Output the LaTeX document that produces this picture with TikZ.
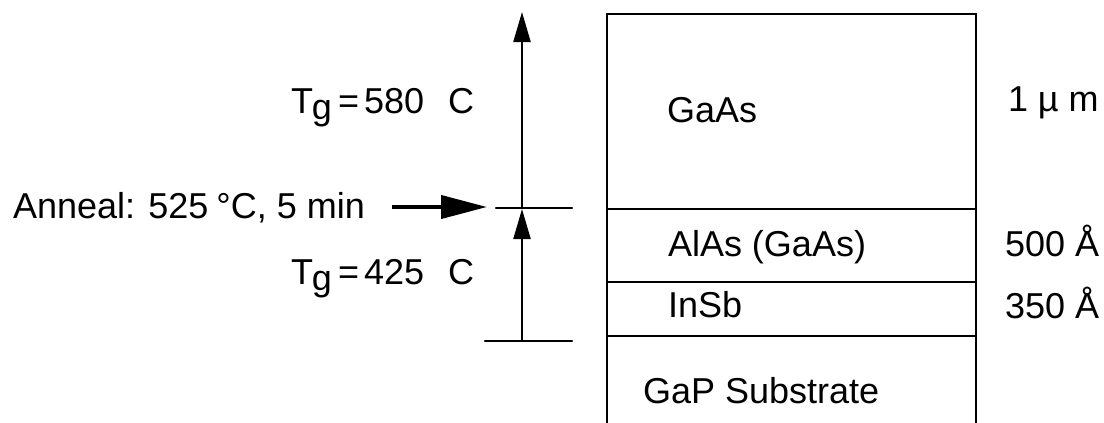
\documentclass[tikz,border=0pt]{standalone}
\usepackage{fontspec}
\setmainfont{Liberation Sans}
\usetikzlibrary{arrows.meta}
\tikzset{
  lbl/.style={anchor=base west, inner sep=0pt, outer sep=0pt, font=\fontsize{36}{40}\selectfont},
  boxline/.style={line width=2.6pt},
  layerline/.style={line width=2.2pt},
  tick/.style={line width=2.4pt, line cap=round},
  uparrow/.style={line width=2.2pt, -{Triangle[length=30pt,width=17pt]}},
  annealarrow/.style={line width=4pt, -{Triangle[length=46pt,width=23pt]}}
}
\newcommand{\tglabel}[1]{T\kern-1pt\raisebox{-6pt}{g}\hspace{6pt}=\hspace{5pt}#1\hspace{24pt}C}
\begin{document}
\begin{tikzpicture}[x=1pt,y=-1pt]
\useasboundingbox (0,0) rectangle (1104,423);
% layer stack
\coordinate (bl) at (607,423);
\coordinate (tl) at (607,14);
\coordinate (tr) at (976,14);
\coordinate (br) at (976,423);
\draw[boxline] (bl) -- (tl) -- (tr) -- (br);
\coordinate (l1a) at (607,209); \coordinate (l1b) at (976,209);
\coordinate (l2a) at (607,282); \coordinate (l2b) at (976,282);
\coordinate (l3a) at (607,336); \coordinate (l3b) at (976,336);
\draw[layerline] (l1a) -- (l1b);
\draw[layerline] (l2a) -- (l2b);
\draw[layerline] (l3a) -- (l3b);
% layer labels
\node[lbl] (gaas) at (667,122) {GaAs};
\node[lbl] (alas) at (668,256) {AlAs (GaAs)};
\node[lbl] (insb) at (668,317) {InSb};
\node[lbl] (gap) at (643,403) {GaP Substrate};
% thickness labels
\node[lbl] (t1) at (1008,111) {1 µ m};
\node[lbl] (t2) at (1005,256) {500 Å};
\node[lbl] (t3) at (1005,318) {350 Å};
% ticks and growth arrows
\coordinate (uta) at (496,208); \coordinate (utb) at (572,208);
\coordinate (lta) at (485,341); \coordinate (ltb) at (572,341);
\draw[tick] (uta) -- (utb);
\draw[tick] (lta) -- (ltb);
\coordinate (vbot) at (522,341);
\coordinate (vmid) at (522,209);
\coordinate (vtop) at (522,12);
\draw[uparrow] (vbot) -- (vmid);
\draw[uparrow] (vmid) -- (vtop);
% temperature labels
\node[lbl] (tg1) at (291,113) {\tglabel{580}};
\node[lbl] (tg2) at (291,284) {\tglabel{425}};
% anneal
\node[lbl] (anneal) at (13,218) {Anneal: 525\hspace{8pt}°C, 5 min};
\coordinate (aa) at (392,207);
\coordinate (ab) at (487,207);
\draw[annealarrow] (aa) -- (ab);
\end{tikzpicture}
\end{document}
